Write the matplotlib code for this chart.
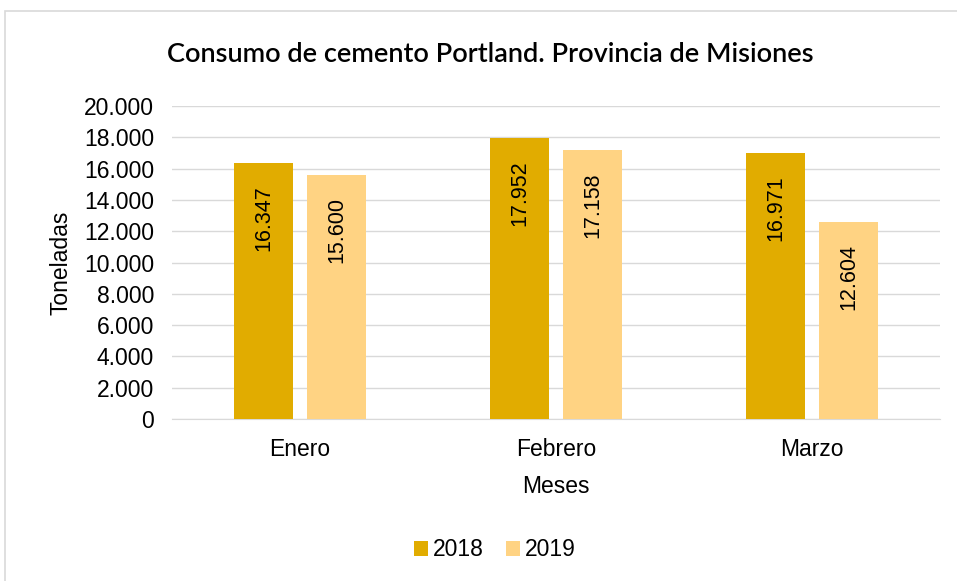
import matplotlib.pyplot as plt
import matplotlib.ticker as mticker
from matplotlib.patches import Rectangle
import numpy as np

meses = ["Enero", "Febrero", "Marzo"]
serie_2018 = [16347, 17952, 16971]
serie_2019 = [15600, 17158, 12604]
anios = ["2018", "2019"]

COL_2018 = "#E1AC00"
COL_2019 = "#FFD383"

plt.rcParams["font.family"] = ["Liberation Sans", "DejaVu Sans"]

fig = plt.figure(figsize=(9.57, 5.81), dpi=100)
ax = fig.add_axes([172 / 957, 1 - 419 / 581, 768 / 957, 313 / 581])

x = np.arange(len(meses))
w = 0.227
off = 0.1426

def fmt_miles(v):
    return f"{v:,.0f}".replace(",", ".")

b1 = ax.bar(x - off, serie_2018, w, color=COL_2018, label=anios[0], zorder=3)
b2 = ax.bar(x + off, serie_2019, w, color=COL_2019, label=anios[1], zorder=3)

for bars in (b1, b2):
    for rect in bars:
        h = rect.get_height()
        ax.text(rect.get_x() + rect.get_width() / 2, h - 1400, fmt_miles(h),
                rotation=90, ha="center", va="top", fontsize=15.5, color="#000000", zorder=4)

ax.set_xlim(-0.5, 2.5)
ax.set_ylim(0, 20000)
ax.set_yticks(range(0, 20001, 2000))
ax.yaxis.set_major_formatter(mticker.FuncFormatter(lambda v, _: fmt_miles(v)))
ax.set_xticks(x)
ax.set_xticklabels(meses)
ax.tick_params(axis="both", length=0, labelsize=16.5, colors="#000000")
ax.tick_params(axis="x", pad=14)
ax.tick_params(axis="y", pad=13)
ax.grid(axis="y", color="#D9D9D9", lw=1, zorder=0)
for s in ("top", "right", "left"):
    ax.spines[s].set_visible(False)
ax.spines["bottom"].set_color("#D9D9D9")

ax.set_xlabel("Meses", fontsize=16.5, labelpad=10)
ax.set_ylabel("Toneladas", fontsize=16.5, labelpad=8)

fig.text(490 / 957, 1 - 55 / 581, "Consumo de cemento Portland. Provincia de Misiones",
         ha="center", va="center", fontsize=19.5, fontfamily="Lato", fontweight="semibold")

fig.legend(loc="center", bbox_to_anchor=(0.517, 1 - 550 / 581), ncol=2, frameon=False,
           fontsize=16.5, handlelength=0.6, handleheight=0.6, handletextpad=0.2,
           columnspacing=1.0)

fig.patches.append(Rectangle((5 / 957, -0.01), 1.0, 1 - 11 / 581 + 0.01, transform=fig.transFigure,
                             fill=False, edgecolor="#D9D9D9", lw=1.2, clip_on=False))

fig.savefig("out.png", dpi=100)
